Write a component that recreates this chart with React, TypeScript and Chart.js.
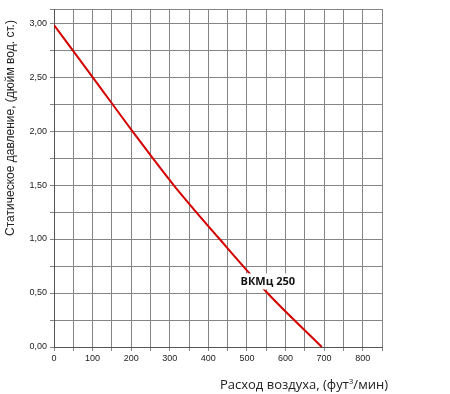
import React, { useEffect, useRef } from "react";
import { Chart, registerables } from "chart.js";

Chart.register(...registerables);

const flowValues = [0, 100, 203, 310, 429, 553, 694];
const pressureValues = [2.98, 2.5, 2.0, 1.5, 1.0, 0.5, 0];
const seriesLabel = "ВКМц 250";
const labelAt = [554, 0.607];
const xTitleMain = "Расход воздуха, (фут";
const xTitleSup = "3";
const xTitleEnd = "/мин)";
const yTitle = "Статическое давление, (дюйм вод. ст.)";

const textPlugin = {
  id: "texts",
  afterDatasetsDraw(chart: any) {
    const { ctx, scales, chartArea } = chart;
    ctx.save();
    // series label with white box
    const px = scales.x.getPixelForValue(labelAt[0]);
    const py = scales.y.getPixelForValue(labelAt[1]);
    ctx.font = "bold 11px 'Open Sans', sans-serif";
    const w = ctx.measureText(seriesLabel).width;
    ctx.fillStyle = "#ffffff";
    ctx.fillRect(px - w / 2 - 2, py - 8, w + 4, 16);
    ctx.fillStyle = "#111111";
    ctx.textAlign = "center";
    ctx.textBaseline = "middle";
    ctx.fillText(seriesLabel, px, py);
    // x title (right aligned, with superscript)
    const big = "13px 'Open Sans', sans-serif";
    const small = "8px 'Open Sans', sans-serif";
    ctx.textAlign = "left";
    ctx.textBaseline = "alphabetic";
    ctx.fillStyle = "#222222";
    ctx.font = big;
    const w1 = ctx.measureText(xTitleMain).width;
    const w3 = ctx.measureText(xTitleEnd).width;
    ctx.font = small;
    const w2 = ctx.measureText(xTitleSup).width;
    const right = chartArea.right + 6;
    const base = chartArea.bottom + 42;
    let x0 = right - (w1 + w2 + w3);
    ctx.font = big;
    ctx.fillText(xTitleMain, x0, base);
    x0 += w1;
    ctx.font = small;
    ctx.fillText(xTitleSup, x0, base - 5);
    x0 += w2;
    ctx.font = big;
    ctx.fillText(xTitleEnd, x0, base);
    // y title
    ctx.translate(11, 128);
    ctx.rotate(-Math.PI / 2);
    ctx.textAlign = "center";
    ctx.textBaseline = "middle";
    ctx.font = "12px 'Liberation Sans', Arial, sans-serif";
    ctx.fillText(yTitle, 0, 0);
    ctx.restore();
  },
};

export default function App() {
  const ref = useRef<HTMLCanvasElement>(null);
  useEffect(() => {
    document.body.style.margin = "0";
    const chart = new Chart(ref.current!, {
      type: "line",
      data: {
        datasets: [
          {
            label: seriesLabel,
            data: flowValues.map((x, i) => ({ x, y: pressureValues[i] })),
            borderColor: "#d40000",
            borderWidth: 2,
            pointRadius: 0,
            cubicInterpolationMode: "monotone",
            fill: false,
          },
        ],
      },
      options: {
        responsive: false,
        animation: false,
        layout: { padding: { left: 0, top: 9, right: 68, bottom: 0 } },
        plugins: { legend: { display: false }, tooltip: { enabled: false } },
        scales: {
          x: {
            type: "linear",
            min: 0,
            max: 850,
            ticks: {
              stepSize: 50,
              autoSkip: false,
              maxRotation: 0,
              font: { family: "'Liberation Sans', Arial", size: 9 },
              color: "#222",
              padding: 2,
              callback: (v: any) => (Number(v) % 100 === 0 && Number(v) <= 800 ? String(v) : ""),
            },
            grid: { color: "#858585", lineWidth: 1, tickLength: 4, drawTicks: true },
            border: { color: "#555", width: 1 },
            afterFit: (s: any) => {
              s.height = 47;
            },
          },
          y: {
            type: "linear",
            min: 0,
            max: 3.13,
            ticks: {
              stepSize: 0.25,
              autoSkip: false,
              font: { family: "'Liberation Sans', Arial", size: 9 },
              color: "#222",
              padding: 3,
              callback: (v: any) => {
                const n = Number(v);
                if (Math.abs(n * 2 - Math.round(n * 2)) < 1e-6 && n <= 3) return n.toFixed(2).replace(".", ",");
                return "";
              },
            },
            grid: { color: "#858585", lineWidth: 1, tickLength: 4 },
            border: { color: "#555", width: 1 },
            afterFit: (s: any) => {
              s.width = 54;
            },
          },
        },
      },
      plugins: [textPlugin],
    });
    return () => chart.destroy();
  }, []);
  return <canvas ref={ref} width={450} height={394} style={{ display: "block" }} />;
}
